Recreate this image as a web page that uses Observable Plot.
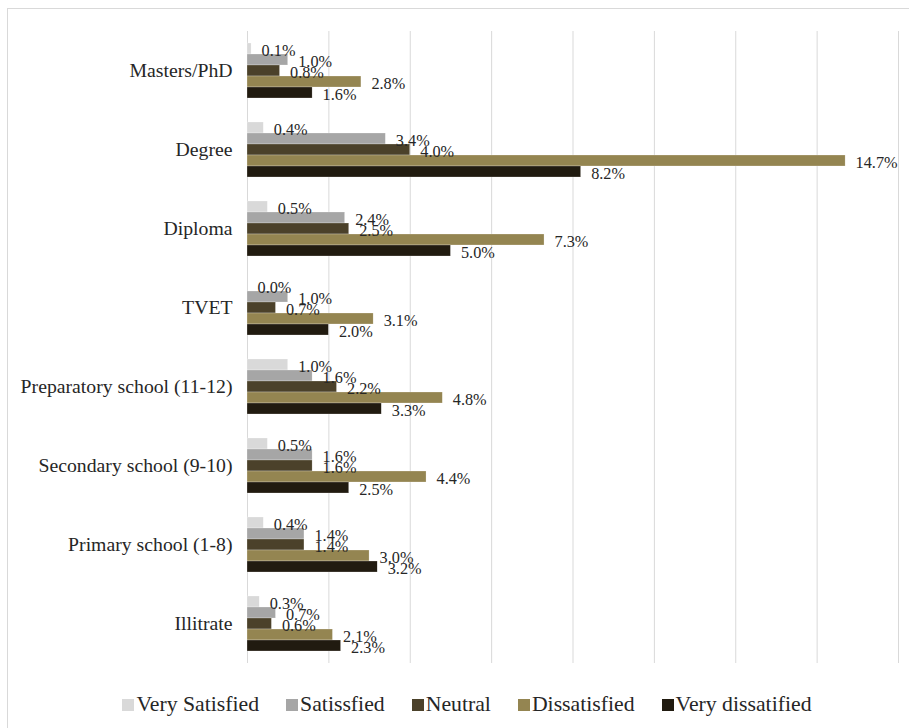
<!DOCTYPE html>
<html>
<head>
<meta charset="utf-8">
<script src="https://cdn.jsdelivr.net/npm/d3@7"></script>
<script src="https://cdn.jsdelivr.net/npm/@observablehq/plot@0.6"></script>
<style>
  html, body { margin: 0; padding: 0; background: #fff; overflow: hidden; }
  #frame { position: absolute; left: 7px; top: 8px; width: 940px; height: 760px; border: 1px solid #d9d9d9; box-sizing: border-box; }
  #chart { position: absolute; left: 0; top: 0; }
  #legend { position: absolute; left: 0; top: 683px; width: 918px; display: flex; justify-content: center; align-items: center; color: #262626; }
  #legend .item { display: flex; align-items: center; margin: 0 13.5px; }
  #legend .sw { width: 12px; height: 12px; margin-right: 2px; }
</style>
</head>
<body>
<div id="frame">
  <div id="chart"></div>
  <div id="legend"></div>
</div>
<script>
const categories = ["Masters/PhD", "Degree", "Diploma", "TVET", "Preparatory school (11-12)", "Secondary school (9-10)", "Primary school (1-8)", "Illitrate"];
const series = ["Very Satisfied", "Satissfied", "Neutral", "Dissatisfied", "Very dissatified"];
const colors = ["#d9d9d9", "#a6a6a6", "#4b412a", "#948551", "#211b10"];

const verySatisfied   = [0.1, 0.4, 0.5, 0.0, 1.0, 0.5, 0.4, 0.3];
const satisfied       = [1.0, 3.4, 2.4, 1.0, 1.6, 1.6, 1.4, 0.7];
const neutral         = [0.8, 4.0, 2.5, 0.7, 2.2, 1.6, 1.4, 0.6];
const dissatisfied    = [2.8, 14.7, 7.3, 3.1, 4.8, 4.4, 3.0, 2.1];
const veryDissatisfied= [1.6, 8.2, 5.0, 2.0, 3.3, 2.5, 3.2, 2.3];
const gridTicks = [0, 2, 4, 6, 8, 10, 12, 14, 16];

const FONT = "'Liberation Serif', Tinos, 'Times New Roman', 'DejaVu Serif', 'Noto Serif', serif";

// pick font sizes so text widths match the reference, whichever font is present
const ctx = document.createElement("canvas").getContext("2d");
function sizeFor(text, targetWidth) {
  ctx.font = "100px " + FONT;
  return 100 * targetWidth / ctx.measureText(text).width;
}
const axisSize = Math.min(20, sizeFor("Preparatory school (11-12)", 212));
const labelSize = Math.min(16.5, sizeFor("14.7%", 42));
const legendSize = Math.min(22, sizeFor("Very dissatified", 136));

const seriesValues = [verySatisfied, satisfied, neutral, dissatisfied, veryDissatisfied];
const rows = [];
categories.forEach((c, i) => {
  series.forEach((s, j) => rows.push({cat: c, series: s, value: seriesValues[j][i]}));
});

const chart = Plot.plot({
  width: 901,
  height: 670,
  marginLeft: 239,
  marginRight: 11,
  marginTop: 21,
  marginBottom: 16,
  style: {fontFamily: FONT, fontSize: axisSize + "px", color: "#262626", background: "transparent"},
  x: {domain: [0, 16], axis: null},
  y: {domain: series, axis: null, paddingInner: 0, paddingOuter: 0.94},
  fy: {domain: categories, padding: 0, axis: "left", label: null, tickSize: 0, tickPadding: 15},
  color: {domain: series, range: colors},
  marks: [
    Plot.ruleX(gridTicks, {stroke: "#d9d9d9", strokeWidth: 1}),
    Plot.barX(rows, {x: "value", y: "series", fy: "cat", fill: "series", inset: 0, stroke: "#ffffff", strokeWidth: 0.4, strokeOpacity: 0.6}),
    Plot.text(rows, {x: "value", y: "series", fy: "cat", text: d => d.value.toFixed(1) + "%", textAnchor: "start", dx: 10, dy: 1.5, fontSize: labelSize, fontFamily: FONT, fill: "#262626"})
  ]
});
document.getElementById("chart").appendChild(chart);

const legend = document.getElementById("legend");
legend.style.fontFamily = FONT;
legend.style.fontSize = legendSize + "px";
series.forEach((s, j) => {
  const item = document.createElement("div");
  item.className = "item";
  const sw = document.createElement("span");
  sw.className = "sw";
  sw.style.background = colors[j];
  const t = document.createElement("span");
  t.textContent = s;
  item.appendChild(sw);
  item.appendChild(t);
  legend.appendChild(item);
});
</script>
</body>
</html>
